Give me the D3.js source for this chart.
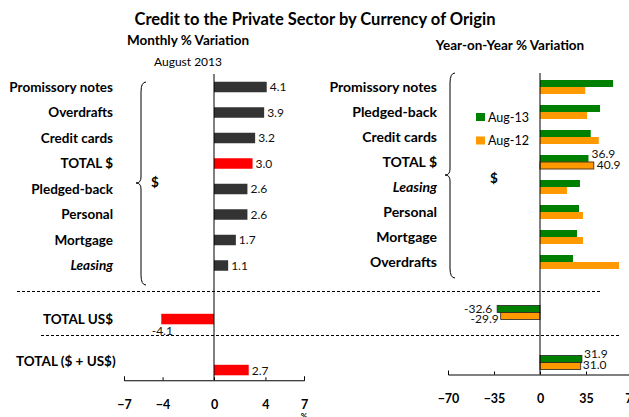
<!DOCTYPE html>
<html lang="en">
<head>
<meta charset="UTF-8">
<title>Credit to the Private Sector by Currency of Origin</title>
<script src="https://d3js.org/d3.v7.min.js"></script>
<style>
    body { margin: 0; background: #fff; }
    svg { display: block; font-family: Lato, "Open Sans", sans-serif; }
    .lbl { font-size: 13.5px; font-weight: bold; fill: #000; }
    .val { font-size: 12px; fill: #111; }
    .tick text { font-size: 12.5px; font-weight: bold; font-family: Lato, sans-serif; }
</style>
</head>
<body>
<svg id="chart" width="629" height="417"></svg>
<script>
// monthly % variation, August 2013
const leftCats = ["Promissory notes", "Overdrafts", "Credit cards", "TOTAL $", "Pledged-back", "Personal", "Mortgage", "Leasing"];
const leftVals = [4.1, 3.9, 3.2, 3.0, 2.6, 2.6, 1.7, 1.1];
const leftTotals = [{ name: "TOTAL US$", value: -4.1 }, { name: "TOTAL ($ + US$)", value: 2.7 }];
const leftTicks = [-7, -4, 0, 4, 7];

// year-on-year % variation
const rightCats = ["Promissory notes", "Pledged-back", "Credit cards", "TOTAL $", "Leasing", "Personal", "Mortgage", "Overdrafts"];
const aug13 = [55.6, 45.7, 38.6, 36.9, 30.4, 29.7, 28.2, 25.1];
const aug12 = [34.4, 35.8, 44.7, 40.9, 20.5, 32.7, 32.7, 60.1];
const rightTotals13 = [-32.6, 31.9];
const rightTotals12 = [-29.9, 31.0];
const rightTicks = [-70, -35, 0, 35, 70];
const seriesNames = ["Aug-13", "Aug-12"];

const GREEN = "#008000", ORANGE = "#ff9900", RED = "#ff0000", DARK = "#333333";

const svg = d3.select("#chart");

// titles
svg.append("text").attr("x", 315).attr("y", 25).attr("text-anchor", "middle")
    .style("font-size", "16.5px").style("font-weight", "bold").text("Credit to the Private Sector by Currency of Origin");
svg.append("text").attr("x", 188).attr("y", 45).attr("text-anchor", "middle")
    .style("font-size", "13.5px").style("font-weight", "bold").text("Monthly % Variation");
svg.append("text").attr("x", 188).attr("y", 66).attr("text-anchor", "middle")
    .style("font-size", "12px").text("August 2013");
svg.append("text").attr("x", 510).attr("y", 50).attr("text-anchor", "middle")
    .style("font-size", "13.5px").style("font-weight", "bold").text("Year-on-Year % Variation");

// scales
const xL = d3.scaleLinear().domain([-7, 7]).range([124, 304]);
const yL = d3.scaleLinear().domain([0, 7]).range([87, 265.5]);
const xR = d3.scaleLinear().domain([-70, 70]).range([448, 632]);
const yR = d3.scaleLinear().domain([0, 7]).range([87, 262]);
const axisRow = 11.5;

function brace(x, top, mid, bot) {
    return `M${x + 10},${top} Q${x + 5},${top} ${x + 5},${top + 10} L${x + 5},${mid - 6} ` +
        `Q${x + 5},${mid} ${x},${mid} Q${x + 5},${mid} ${x + 5},${mid + 6} ` +
        `L${x + 5},${bot - 10} Q${x + 5},${bot} ${x + 10},${bot}`;
}

// ---------- left panel ----------
const gL = svg.append("g");
const bhL = 10.5;

gL.selectAll("text.cat").data(leftCats).enter().append("text")
    .attr("class", "lbl").attr("x", 113).attr("y", (d, i) => yL(i) + 4.5)
    .attr("text-anchor", "end")
    .style("font-style", d => d === "Leasing" ? "italic" : "normal")
    .text(d => d);

gL.selectAll("rect.bar").data(leftVals).enter().append("rect")
    .attr("x", xL(0)).attr("y", (d, i) => yL(i) - bhL / 2)
    .attr("width", d => xL(d) - xL(0)).attr("height", bhL)
    .attr("fill", (d, i) => leftCats[i] === "TOTAL $" ? RED : DARK);

gL.selectAll("text.v").data(leftVals).enter().append("text")
    .attr("class", "val").attr("x", d => xL(d) + 3).attr("y", (d, i) => yL(i) + 4)
    .text(d => d.toFixed(1));

const totRowsL = [9.1, 11.1];
leftTotals.forEach((t, k) => {
    const yc = yL(totRowsL[k]);
    gL.append("rect")
        .attr("x", xL(Math.min(0, t.value))).attr("y", yc - bhL / 2)
        .attr("width", Math.abs(xL(t.value) - xL(0))).attr("height", bhL)
        .attr("fill", RED);
    if (t.value < 0) {
        gL.append("text").attr("class", "val").attr("x", xL(t.value) + 1).attr("y", yc + 16)
            .attr("text-anchor", "middle").text(t.value.toFixed(1));
        gL.append("text").attr("class", "lbl").attr("x", 113).attr("y", yc + 4.5)
            .attr("text-anchor", "end").text(t.name);
    } else {
        gL.append("text").attr("class", "val").attr("x", xL(t.value) + 3).attr("y", yc + 5)
            .text(t.value.toFixed(1));
        gL.append("text").attr("class", "lbl").attr("x", 16).attr("y", yc - 4).text(t.name);
    }
});

gL.append("line").attr("x1", xL(0)).attr("x2", xL(0))
    .attr("y1", 74).attr("y2", yL(axisRow)).attr("stroke", "#000");

gL.append("g").attr("transform", `translate(0,${yL(axisRow)})`)
    .call(d3.axisBottom(xL).tickValues(leftTicks).tickFormat(d3.format("d"))
        .tickSizeInner(-3).tickSizeOuter(-4).tickPadding(20))
    .call(g => g.select(".domain").attr("stroke", "#000"));
gL.append("text").attr("x", xL(7)).attr("y", 419).attr("text-anchor", "middle")
    .style("font-size", "8px").style("font-weight", "bold").text("%");

gL.append("path").attr("d", brace(136, 82, 183, 285)).attr("fill", "none").attr("stroke", "#000");
gL.append("text").attr("class", "lbl").attr("x", 151).attr("y", 187).text("$");

// ---------- right panel ----------
const gR = svg.append("g");
const bhR = 7;

gR.selectAll("text.cat").data(rightCats).enter().append("text")
    .attr("class", "lbl").attr("x", 437).attr("y", (d, i) => yR(i) + 5)
    .attr("text-anchor", "end")
    .style("font-size", "14px")
    .style("font-style", d => d === "Leasing" ? "italic" : "normal")
    .text(d => d);

const series = [aug13, aug12];
const colors = [GREEN, ORANGE];
series.forEach((vals, s) => {
    gR.selectAll(null).data(vals).enter().append("rect")
        .attr("x", xR(0)).attr("y", (d, i) => yR(i) - bhR + s * bhR)
        .attr("width", d => xR(d) - xR(0)).attr("height", bhR)
        .attr("fill", colors[s])
        .attr("stroke", (d, i) => rightCats[i] === "TOTAL $" && s === 1 ? "#5a3a10" : "none");
});

const iTot = rightCats.indexOf("TOTAL $");
gR.append("text").attr("class", "val").attr("x", xR(aug13[iTot]) + 3).attr("y", yR(iTot) - 4)
    .text(aug13[iTot].toFixed(1));
gR.append("text").attr("class", "val").attr("x", xR(aug12[iTot]) + 3).attr("y", yR(iTot) + 6.5)
    .text(aug12[iTot].toFixed(1));

const totRowsR = [9.02, 11.02];
[rightTotals13, rightTotals12].forEach((vals, s) => {
    vals.forEach((v, k) => {
        const yc = yR(totRowsR[k]);
        gR.append("rect")
            .attr("x", xR(Math.min(0, v))).attr("y", yc - bhR + s * bhR)
            .attr("width", Math.abs(xR(v) - xR(0))).attr("height", bhR)
            .attr("fill", colors[s]).attr("stroke", "#222").attr("stroke-width", 0.8);
        if (v < 0) {
            gR.append("text").attr("class", "val").attr("x", xR(v) - 5 + s * 3).attr("y", yc + 0.5 + s * 9.5)
                .attr("text-anchor", "end").text(v.toFixed(1));
        } else {
            gR.append("text").attr("class", "val").attr("x", xR(v) + 2).attr("y", yc - 4.5 + s * 11)
                .text(v.toFixed(1));
        }
    });
});

gR.append("line").attr("x1", xR(0)).attr("x2", xR(0))
    .attr("y1", 73).attr("y2", yR(axisRow)).attr("stroke", "#000");

gR.append("g").attr("transform", `translate(0,${yR(axisRow)})`)
    .call(d3.axisBottom(xR).tickValues(rightTicks).tickFormat(d3.format("d"))
        .tickSizeInner(-3).tickSizeOuter(-4).tickPadding(20))
    .call(g => g.select(".domain").attr("stroke", "#000"));
gR.append("text").attr("x", xR(70)).attr("y", 419).attr("text-anchor", "middle")
    .style("font-size", "8px").style("font-weight", "bold").text("%");

gR.append("path").attr("d", brace(445, 73, 175, 278)).attr("fill", "none").attr("stroke", "#000");
gR.append("text").attr("class", "lbl").attr("x", 490).attr("y", 183).text("$");

// legend
const leg = gR.selectAll("g.leg").data(seriesNames).enter().append("g")
    .attr("transform", (d, i) => `translate(476,${113 + i * 23.5})`);
leg.append("rect").attr("width", 9).attr("height", 8).attr("fill", (d, i) => colors[i]);
leg.append("text").attr("x", 12).attr("y", 8.5).style("font-size", "12.5px").text(d => d);

// dashed separators
svg.append("line").attr("x1", 17).attr("x2", 602).attr("y1", 291.5).attr("y2", 291.5)
    .attr("stroke", "#000").attr("stroke-dasharray", "3,2");
svg.append("line").attr("x1", 41).attr("x2", 620).attr("y1", 335.5).attr("y2", 335.5)
    .attr("stroke", "#000").attr("stroke-dasharray", "3,2");
</script>
</body>
</html>
